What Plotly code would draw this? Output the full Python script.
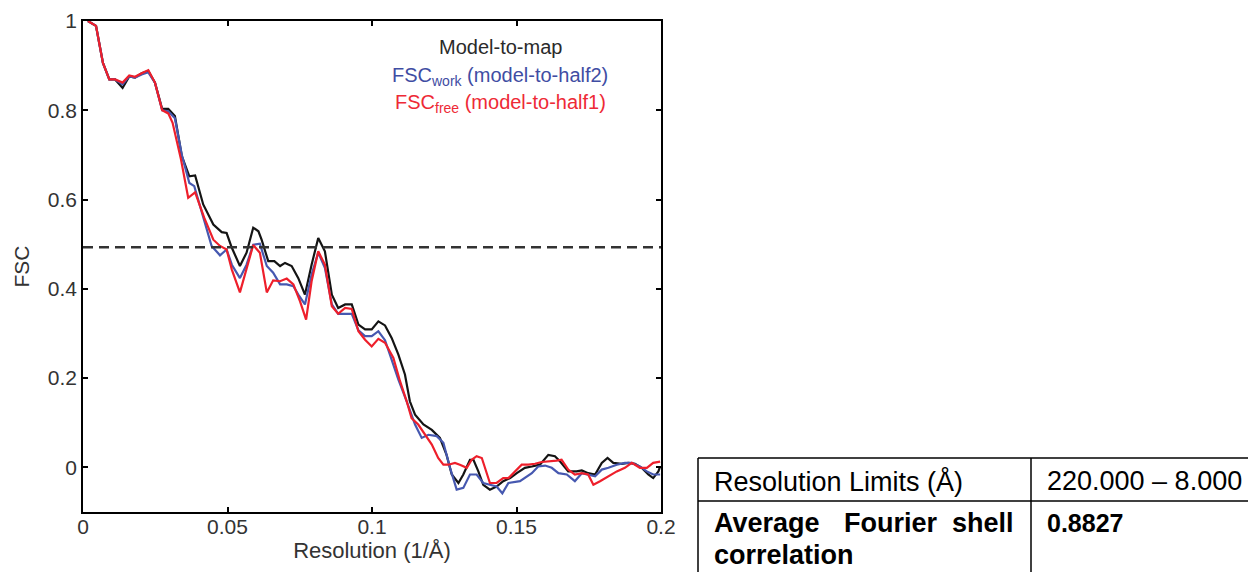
import plotly.graph_objects as go

# ---------------- data ----------------
res_model_map = [0.0017,0.0045,0.0069,0.0091,0.0111,0.0137,0.0160,0.0180,0.0203,0.0226,
                 0.0249,0.0274,0.0295,0.0318,0.0342,0.0368,0.0388,0.0416,0.0451,0.0480,
                 0.0497,0.0515,0.0543,0.0566,0.0589,0.0607,0.0618,0.0641,0.0662,0.0682,
                 0.0699,0.0722,0.0745,0.0768,0.0791,0.0814,0.0837,0.0861,0.0883,0.0907,
                 0.0930,0.0953,0.0976,0.0999,0.1022,0.1045,0.1068,0.1091,0.1114,0.1131,
                 0.1149,0.1178,0.1207,0.1235,0.1258,0.1276,0.1299,0.1316,0.1339,0.1351,
                 0.1368,0.1385,0.1408,0.1431,0.1454,0.1478,0.1501,0.1529,0.1553,0.1581,
                 0.1610,0.1633,0.1651,0.1679,0.1708,0.1726,0.1748,0.1772,0.1795,0.1815,
                 0.1835,0.1864,0.1887,0.1910,0.1933,0.1956,0.1973,0.1991,0.1997]
fsc_model_map = [1.0,0.989,0.906,0.869,0.869,0.850,0.876,0.873,0.883,0.888,
                 0.862,0.803,0.803,0.787,0.697,0.652,0.654,0.589,0.544,0.527,
                 0.525,0.492,0.451,0.481,0.537,0.529,0.510,0.462,0.462,0.451,
                 0.458,0.451,0.424,0.387,0.454,0.514,0.484,0.387,0.357,0.365,
                 0.365,0.320,0.309,0.309,0.327,0.318,0.290,0.253,0.208,0.148,
                 0.118,0.096,0.084,0.066,0.028,-0.016,-0.035,-0.016,0.017,0.017,
                 -0.009,-0.039,-0.050,-0.043,-0.031,-0.024,-0.013,-0.001,0.002,0.006,
                 0.028,0.025,0.013,-0.009,-0.009,-0.007,-0.013,-0.016,0.010,0.021,
                 0.010,0.008,0.010,0.008,-0.001,-0.016,-0.024,-0.009,0.002]

res_work = [0.0017,0.0045,0.0069,0.0091,0.0111,0.0137,0.0160,0.0180,0.0203,0.0226,
            0.0249,0.0274,0.0295,0.0318,0.0342,0.0368,0.0385,0.0415,0.0445,0.0474,
            0.0497,0.0515,0.0543,0.0566,0.0589,0.0612,0.0636,0.0658,0.0682,0.0705,
            0.0728,0.0745,0.0768,0.0791,0.0814,0.0837,0.0861,0.0883,0.0907,0.0930,
            0.0953,0.0976,0.0999,0.1022,0.1045,0.1068,0.1091,0.1120,0.1149,0.1172,
            0.1195,0.1224,0.1247,0.1270,0.1293,0.1316,0.1339,0.1362,0.1385,0.1408,
            0.1431,0.1451,0.1472,0.1512,0.1535,0.1553,0.1575,0.1599,0.1622,0.1645,
            0.1674,0.1702,0.1726,0.1748,0.1772,0.1795,0.1818,0.1847,0.1875,0.1899,
            0.1927,0.1951,0.1973,0.1997]
fsc_work = [1.0,0.989,0.906,0.869,0.869,0.858,0.876,0.873,0.880,0.885,
            0.862,0.800,0.798,0.782,0.700,0.637,0.630,0.560,0.496,0.475,
            0.488,0.454,0.424,0.454,0.499,0.501,0.451,0.436,0.410,0.410,
            0.406,0.387,0.365,0.432,0.481,0.447,0.365,0.344,0.344,0.344,
            0.307,0.294,0.294,0.305,0.285,0.241,0.197,0.148,0.096,0.066,
            0.073,0.070,0.055,-0.001,-0.050,-0.046,-0.016,-0.016,-0.035,-0.039,
            -0.043,-0.058,-0.035,-0.031,-0.020,-0.013,0.002,0.004,-0.001,-0.013,
            -0.016,-0.031,-0.013,-0.016,-0.020,-0.005,-0.001,0.006,0.010,0.010,
            0.002,-0.009,-0.016,-0.016]

res_free = [0.0017,0.0045,0.0069,0.0091,0.0111,0.0137,0.0160,0.0180,0.0203,0.0226,
            0.0249,0.0274,0.0295,0.0310,0.0339,0.0364,0.0388,0.0419,0.0451,0.0474,
            0.0497,0.0515,0.0543,0.0566,0.0589,0.0612,0.0636,0.0658,0.0682,0.0705,
            0.0728,0.0751,0.0772,0.0791,0.0814,0.0837,0.0861,0.0883,0.0907,0.0930,
            0.0953,0.0976,0.0999,0.1022,0.1045,0.1074,0.1097,0.1120,0.1137,0.1160,
            0.1183,0.1207,0.1229,0.1247,0.1264,0.1287,0.1304,0.1328,0.1345,0.1362,
            0.1380,0.1408,0.1431,0.1454,0.1472,0.1495,0.1518,0.1541,0.1564,0.1587,
            0.1616,0.1639,0.1656,0.1679,0.1702,0.1726,0.1748,0.1766,0.1789,0.1818,
            0.1847,0.1875,0.1899,0.1927,0.1951,0.1973,0.1997]
fsc_free = [1.0,0.989,0.906,0.869,0.869,0.862,0.878,0.875,0.883,0.890,
            0.862,0.800,0.793,0.772,0.690,0.604,0.616,0.560,0.510,0.496,
            0.488,0.443,0.392,0.443,0.498,0.481,0.392,0.419,0.417,0.423,
            0.410,0.372,0.331,0.417,0.484,0.454,0.361,0.344,0.357,0.355,
            0.305,0.286,0.271,0.288,0.279,0.245,0.193,0.148,0.110,0.096,
            0.073,0.051,0.021,0.006,0.006,0.010,0.006,-0.001,0.017,0.025,
            0.021,-0.035,-0.035,-0.024,-0.024,-0.009,0.006,0.006,0.008,0.012,
            0.013,0.015,0.017,-0.005,-0.016,-0.013,-0.016,-0.039,-0.031,-0.020,
            -0.009,-0.001,0.010,-0.001,-0.001,0.010,0.013]

threshold = 0.493
x_ticks = [0, 0.05, 0.1, 0.15, 0.2]
y_ticks = [0, 0.2, 0.4, 0.6, 0.8, 1]

legend_lines = ["Model-to-map",
                "FSC<sub>work</sub> (model-to-half2)",
                "FSC<sub>free</sub> (model-to-half1)"]

table_label_1 = "Resolution Limits (Å)"
table_value_1 = "220.000 – 8.000"
table_label_2_words = ["Average", "Fourier", "shell"]
table_label_2_line2 = "correlation"
table_value_2 = "0.8827"

# ---------------- styling ----------------
FONT = "Liberation Sans, Arial, sans-serif"
BLACK = "#141414"
BLUE = "#4658B0"
RED = "#EE1F2B"

OFF = 8                      # page body margin offset
W, H = 1256 - OFF, 572 - OFF
PL, PR, PT, PB = 83, 661, 21, 512   # plot area edges in page pixels
PW, PH = PR - PL, PB - PT


def px(xp):
    return (xp - PL) / PW


def py(yp):
    return (PB - yp) / PH


fig = go.Figure()
fig.add_trace(go.Scatter(x=res_model_map, y=fsc_model_map, mode="lines",
                         line=dict(color=BLACK, width=2.2), name="Model-to-map"))
fig.add_trace(go.Scatter(x=res_work, y=fsc_work, mode="lines",
                         line=dict(color=BLUE, width=2.2), name="FSCwork"))
fig.add_trace(go.Scatter(x=res_free, y=fsc_free, mode="lines",
                         line=dict(color=RED, width=2.2), name="FSCfree"))

fig.add_shape(type="line", xref="x", yref="y", x0=0, x1=0.2,
              y0=threshold, y1=threshold,
              line=dict(color="#333333", width=2.5, dash="10px,6px"))

axis_common = dict(showline=True, linecolor="black", linewidth=1.6, mirror="ticks",
                   ticks="inside", ticklen=5, tickwidth=1.5, tickcolor="black",
                   showgrid=False, zeroline=False, automargin=False,
                   tickfont=dict(family=FONT, size=21, color="#333333"))

fig.update_xaxes(range=[0, 0.2], tickvals=x_ticks, ticklabelstandoff=-5,
                 title=dict(text="Resolution (1/Å)", font=dict(family=FONT, size=22, color="#333333"),
                            standoff=2),
                 **axis_common)
fig.update_yaxes(range=[-0.1, 1.0], tickvals=y_ticks,
                 title=dict(text="FSC", font=dict(family=FONT, size=21, color="#333333"),
                            standoff=12),
                 **axis_common)

# legend-like text block
legend_colors = ["#2a2a2a", "#3F4DA3", "#EE2A36"]
legend_y = [47, 76, 103]
for txt, col, yy in zip(legend_lines, legend_colors, legend_y):
    fig.add_annotation(text=txt, xref="paper", yref="paper", x=px(500), y=py(yy),
                       xanchor="center", yanchor="middle", showarrow=False,
                       font=dict(family=FONT, size=20, color=col))

# table on the right
tline = dict(color="black", width=1.5)
for (x0, y0, x1, y1) in [(698, 458, 1262, 458), (698, 501, 1262, 501),
                         (698, 458, 698, 580), (1031, 458, 1031, 580)]:
    fig.add_shape(type="line", xref="paper", yref="paper",
                  x0=px(x0), x1=px(x1), y0=py(y0), y1=py(y1), line=tline)

tfont = dict(family=FONT, size=27, color="black")
vfont = dict(family=FONT, size=25, color="black")
fig.add_annotation(text=table_label_1, xref="paper", yref="paper", x=px(712), y=py(481),
                   xanchor="left", yanchor="middle", showarrow=False, font=tfont)
fig.add_annotation(text=table_value_1, xref="paper", yref="paper", x=px(1045), y=py(481),
                   xanchor="left", yanchor="middle", showarrow=False, font=tfont)
word_pos = [(712, "left"), (891, "center"), (1016, "right")]
for w, (xx, anc) in zip(table_label_2_words, word_pos):
    fig.add_annotation(text="<b>%s</b>" % w, xref="paper", yref="paper", x=px(xx), y=py(523),
                       xanchor=anc, yanchor="middle", showarrow=False, font=tfont)
fig.add_annotation(text="<b>%s</b>" % table_label_2_line2, xref="paper", yref="paper",
                   x=px(712), y=py(555), xanchor="left", yanchor="middle",
                   showarrow=False, font=tfont)
fig.add_annotation(text="<b>%s</b>" % table_value_2, xref="paper", yref="paper",
                   x=px(1045), y=py(523), xanchor="left", yanchor="middle",
                   showarrow=False, font=vfont)

fig.update_layout(width=W, height=H,
                  margin=dict(l=PL - OFF, r=W - (PR - OFF), t=PT - OFF, b=H - (PB - OFF)),
                  paper_bgcolor="white", plot_bgcolor="white", showlegend=False)

fig.write_html("out.html")
